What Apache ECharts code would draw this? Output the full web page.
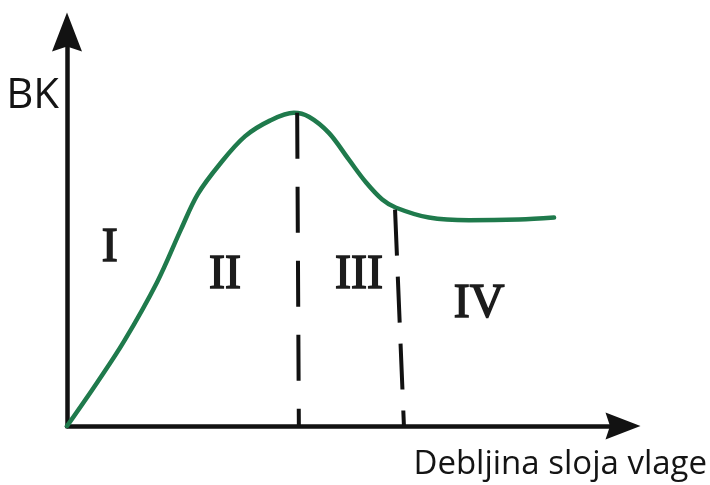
<!DOCTYPE html>
<html>
<head>
<meta charset="utf-8">
<script src="https://cdn.jsdelivr.net/npm/echarts@6/dist/echarts.min.js"></script>
<style>
html,body{margin:0;padding:0;background:#fff;}
#c{width:710px;height:485px;}
</style>
</head>
<body>
<div id="c"></div>
<script>
// Curve (schematic, arbitrary units 0..100)
const curveX = [0, 5.4, 10.3, 16.2, 20.5, 23.5, 27.5, 32.0, 36.5, 40.8, 43.5, 47.1, 50.7, 53.8, 56.7, 59.2, 65.1, 72.3, 81.3, 87.6];
const curveY = [0, 11.0, 21.6, 36.5, 49.9, 58.8, 66.5, 73.5, 77.5, 79.5, 78.5, 74.4, 67.6, 61.8, 57.5, 55.4, 52.9, 52.2, 52.4, 52.9];
// Region boundaries (top point -> foot on x axis)
const divider1X = [41.4, 41.7];
const divider1Y = [79.5, 0];
const divider2X = [59.0, 60.6];
const divider2Y = [54.9, 0];
// Region labels
const regionNames = ['I', 'II', 'III', 'IV'];
const regionX = [7.7, 28.4, 52.5, 74.1];
const regionY = [45.1, 38.2, 38.2, 30.9];
const yAxisName = 'BK';
const xAxisName = 'Debljina sloja vlage';

const zip = (a, b) => a.map((v, i) => [v, b[i]]);
const arrowPath = 'path://M15,0 L30,39 L15,34 L0,39 Z';

const chart = echarts.init(document.getElementById('c'), null, {renderer: 'canvas'});
chart.setOption({
  animation: false,
  backgroundColor: '#ffffff',
  grid: {left: 67, right: 86, top: 32, bottom: 59, containLabel: false},
  xAxis: {
    type: 'value', min: 0, max: 100,
    axisLine: {show: true, onZero: false, symbol: ['none', arrowPath], symbolSize: [31, 35],
      lineStyle: {color: '#121212', width: 4.5}},
    axisTick: {show: false}, axisLabel: {show: false}, splitLine: {show: false},
    name: xAxisName, nameLocation: 'end', nameGap: 84,
    nameTextStyle: {fontFamily: 'Open Sans', fontSize: 33, color: '#141414', align: 'right', verticalAlign: 'top', padding: [22, 0, 0, 0]}
  },
  yAxis: {
    type: 'value', min: 0, max: 100,
    axisLine: {show: true, onZero: false, symbol: ['none', arrowPath], symbolSize: [30, 39],
      lineStyle: {color: '#121212', width: 4.5}},
    axisTick: {show: false}, axisLabel: {show: false}, splitLine: {show: false},
    name: yAxisName, nameLocation: 'end', nameGap: -64,
    nameTextStyle: {fontFamily: 'Open Sans', fontSize: 42, color: '#141414', align: 'right', verticalAlign: 'middle', padding: [0, 8, 0, 0]}
  },
  series: [
    {
      type: 'line', data: zip(curveX, curveY), smooth: 0.35, showSymbol: false, z: 2,
      lineStyle: {color: '#1f7a4c', width: 4.5, cap: 'round', join: 'round'}
    },
    {
      type: 'line', data: zip(divider1X, divider1Y), showSymbol: false, z: 3,
      lineStyle: {color: '#111111', width: 4, type: [46, 28]}
    },
    {
      type: 'line', data: zip(divider2X, divider2Y), showSymbol: false, z: 3,
      lineStyle: {color: '#111111', width: 4, type: [46, 21]}
    },
    {
      type: 'scatter', symbolSize: 1, itemStyle: {color: 'rgba(0,0,0,0)', opacity: 1}, z: 4,
      data: regionNames.map((n, i) => ({name: n, value: [regionX[i], regionY[i]]})),
      label: {show: true, position: 'inside', formatter: p => p.name, opacity: 1,
        fontFamily: 'Liberation Serif', fontWeight: 'normal', fontSize: 48, color: '#1c1c1c',
        textBorderColor: '#1c1c1c', textBorderWidth: 1.6}
    }
  ]
});
</script>
</body>
</html>
